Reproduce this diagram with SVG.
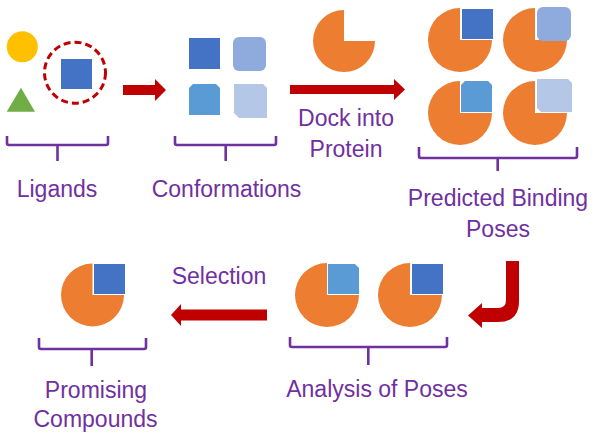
<svg xmlns="http://www.w3.org/2000/svg" width="595" height="441" viewBox="0 0 595 441">
<style>
.t{font-family:"Liberation Sans",Arial,sans-serif;font-size:23px;fill:#7030A0;text-anchor:middle}
.br{fill:none;stroke:#7030A0;stroke-width:2.6;stroke-linejoin:round}
.pie{fill:#ED7D31}
.arr{fill:#C00000}
.b1{fill:#4472C4}.b2{fill:#8FAADC}.b3{fill:#5B9BD5}.b4{fill:#B4C7E7}
</style>
<defs>
<path id="pie" class="pie" d="M0,0 L0,-32 A32,32 0 1 0 32,0 Z"/>
</defs>
<rect width="595" height="441" fill="#fff"/>

<g id="ligands">
<circle cx="22.3" cy="46.7" r="15.5" fill="#FFC000"/>
<polygon points="21,87.7 6.7,111.7 35,111.7" fill="#70AD47"/>
<circle cx="75" cy="72.7" r="30.5" fill="none" stroke="#C00000" stroke-width="3" stroke-dasharray="7 4"/>
<rect class="b1" x="61" y="59" width="31" height="30"/>
<path class="br" d="M7,136 V143 Q7,145 9,145 H106 Q108,145 108,143 V136 M57.5,145 V161"/>
<text class="t" x="57" y="197">Ligands</text>
</g>

<g id="conformations">
<rect class="b1" x="189" y="38" width="31" height="31"/>
<rect class="b2" x="233" y="37" width="33" height="34" rx="6"/>
<path class="b3" d="M193,84 H216 L220,88 V115 H189 V88 Z"/>
<path class="b4" d="M234,84 H263 L267,88 V118 H239 L234,113 Z"/>
<path class="br" d="M175,136 V143 Q175,145 177,145 H274 Q276,145 276,143 V136 M225.7,145 V161"/>
<text class="t" x="226.5" y="197">Conformations</text>
</g>

<g id="protein">
<path class="pie" d="M344,41 L344,10 A31,31 0 1 0 375,41 Z"/>
<text class="t" x="346" y="126">Dock into</text>
<text class="t" x="346" y="157">Protein</text>
</g>

<g id="predicted-poses">
<use href="#pie" x="460" y="40"/>
<rect class="b1" x="462" y="9" width="31" height="30"/>
<use href="#pie" x="535" y="40"/>
<rect class="b2" x="537" y="7" width="34" height="34" rx="6"/>
<use href="#pie" x="460" y="113"/>
<path class="b3" d="M465,81 H488 L492,85 V112 H461 V85 Z"/>
<use href="#pie" x="535" y="113"/>
<path class="b4" d="M537,79 H568 L572,83 V112 H541 L537,108 Z"/>
<path class="br" d="M419,147 V156 Q419,158 421,158 H575 Q577,158 577,156 V147 M497.7,158 V171"/>
<text class="t" x="498" y="206">Predicted Binding</text>
<text class="t" x="498" y="237">Poses</text>
</g>

<g id="analysis">
<use href="#pie" x="327" y="295"/>
<path class="b3" d="M328,264 H355 L359,268 V294 H328 Z"/>
<use href="#pie" x="410" y="295"/>
<rect class="b1" x="412" y="264" width="31" height="30"/>
<path class="br" d="M290,337 V345 Q290,347 292,347 H445 Q447,347 447,345 V337 M368.3,347 V365"/>
<text class="t" x="377" y="397">Analysis of Poses</text>
</g>

<g id="promising">
<path class="pie" d="M92.5,295 L92.5,263.5 A31.5,31.5 0 1 0 124,295 Z"/>
<rect class="b1" x="94" y="264" width="31" height="30"/>
<path class="br" d="M39,338 V347 Q39,349 41,349 H144 Q146,349 146,347 V338 M91.7,349 V366"/>
<text class="t" x="96" y="398">Promising</text>
<text class="t" x="95.5" y="427">Compounds</text>
</g>

<g id="connectors">
<path class="arr" d="M123,85 H155 V79 L166,90 L155,101 V95 H123 Z"/>
<path class="arr" d="M290,85 H394 V79 L405,89.5 L394,100 V94 H290 Z"/>
<path class="arr" d="M519,261 V301 Q519,322 498,322 H482 V328 L468,315.5 L482,303 V308 H498 Q506,308 506,300 V261 Z"/>
<path class="arr" d="M267,309.5 H181 V304 L171,315 L181,326 V320.5 H267 Z"/>
<text class="t" x="219" y="284">Selection</text>
</g>
</svg>
